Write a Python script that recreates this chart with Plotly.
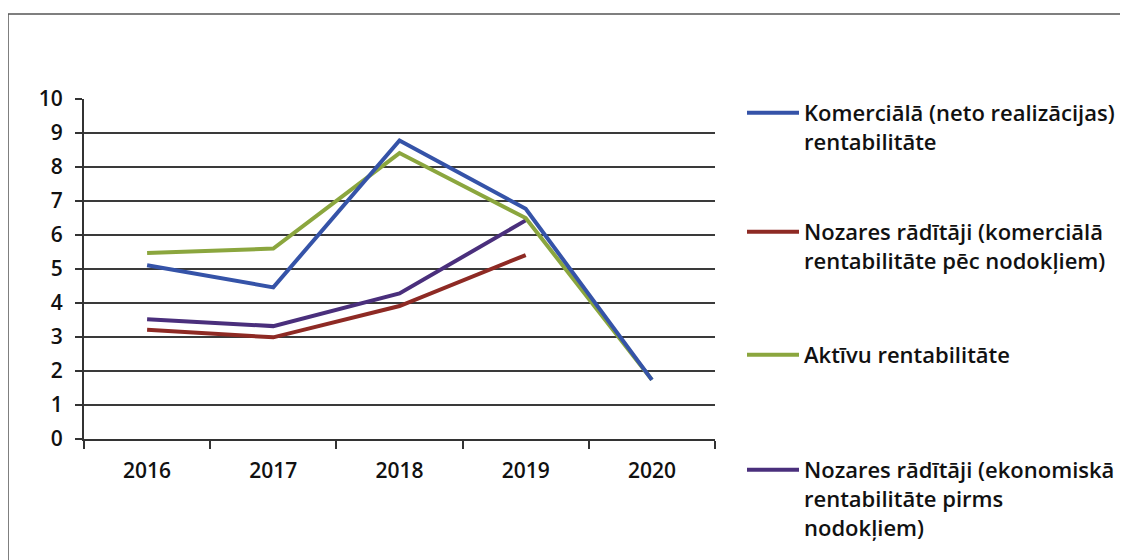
import plotly.graph_objects as go

years = ["2016", "2017", "2018", "2019", "2020"]

komerciala = [5.11, 4.46, 8.78, 6.77, 1.74]
nozares_kom = [3.21, 2.99, 3.91, 5.41, None]
aktivu = [5.47, 5.60, 8.41, 6.50, 1.74]
nozares_ekon = [3.52, 3.32, 4.28, 6.43, None]

names = [
    "Komerciālā (neto realizācijas)<br>rentabilitāte",
    "Nozares rādītāji (komerciālā<br>rentabilitāte pēc nodokļiem)",
    "Aktīvu rentabilitāte",
    "Nozares rādītāji (ekonomiskā<br>rentabilitāte pirms<br>nodokļiem)",
]
colors = ["#3553a8", "#8e2a24", "#8ba63e", "#4a2f7c"]
series = [komerciala, nozares_kom, aktivu, nozares_ekon]
legend_ids = ["legend", "legend2", "legend3", "legend4"]

# page has an 8px body margin, so figure coords = page coords - 8
OFF = 8
W, H = 1120, 552
L, R, T, B = 84 - OFF, 715 - OFF, 99 - OFF, 439 - OFF  # plot area


def px_x(p):
    return (p - OFF - L) / (R - L)


def px_y(p):
    return (B - (p - OFF)) / (B - T)


fig = go.Figure()

# blue drawn last so it sits on top, like the original
order = [1, 3, 2, 0]
for i in order:
    fig.add_trace(go.Scatter(
        x=years, y=series[i], name=names[i], mode="lines",
        line=dict(color=colors[i], width=4),
        legend=legend_ids[i], connectgaps=False,
    ))

font = dict(family="Open Sans", size=22, color="#111111", weight=600)
tick_font = dict(family="Open Sans", size=21, color="#111111", weight=600)
leg_centres = [113, 232, 355, 470]  # page y of first text line
legends = {}
for lid, c in zip(legend_ids, leg_centres):
    legends[lid] = dict(
        x=px_x(742), y=px_y(c - 21), xanchor="left", yanchor="top",
        bgcolor="rgba(0,0,0,0)", font=font, itemwidth=52, valign="top",
    )

fig.update_layout(
    width=W, height=H,
    margin=dict(l=L, r=W - R, t=T, b=H - B, autoexpand=False),
    plot_bgcolor="white", paper_bgcolor="white",
    font=font,
    showlegend=True,
    **legends,
)

fig.update_xaxes(
    type="category", showgrid=False, showline=True, linecolor="#333333",
    linewidth=2, ticks="outside", tickson="boundaries", ticklen=8,
    tickcolor="#333333", tickwidth=2, tickfont=tick_font, range=[-0.5, 4.5],
    ticklabelstandoff=12,
)
fig.update_yaxes(
    range=[0, 10], dtick=1, showgrid=True, gridcolor="#3a3a3a", gridwidth=1.8,
    showline=True, linecolor="#333333", linewidth=2, ticks="outside",
    ticklen=7, tickcolor="#333333", tickwidth=2, tickfont=tick_font,
    zeroline=False, ticklabelstandoff=8,
)

# outer chart border
fig.add_shape(
    type="rect", xref="paper", yref="paper",
    x0=px_x(8), x1=px_x(1125), y0=px_y(570), y1=px_y(14),
    line=dict(color="#555555", width=1.5),
)

fig.write_html("out.html")
